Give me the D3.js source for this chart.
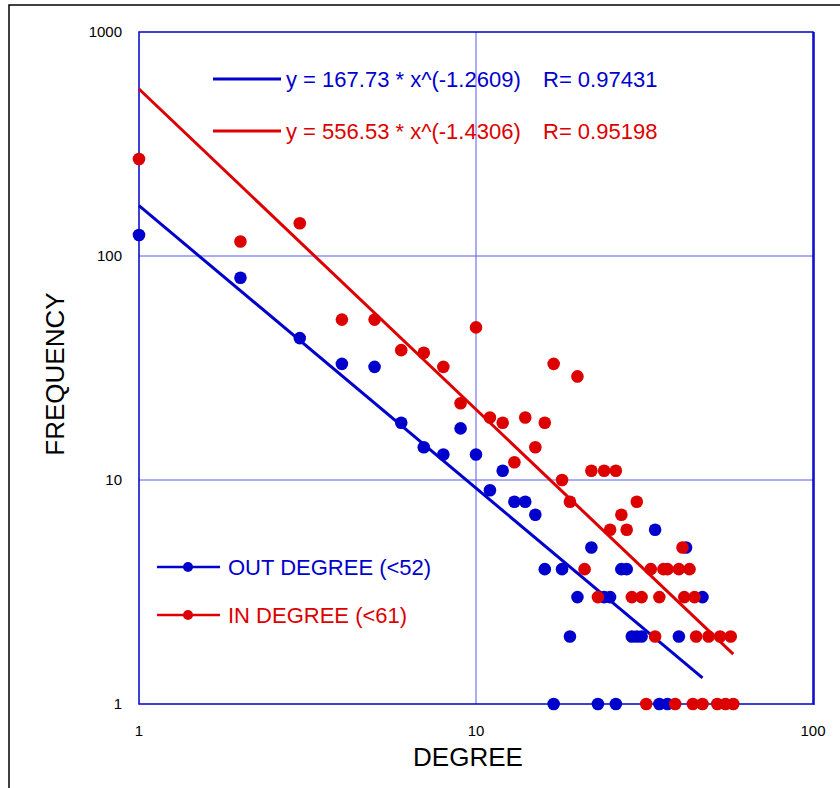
<!DOCTYPE html>
<html>
<head>
<meta charset="utf-8">
<script src="https://cdn.jsdelivr.net/npm/d3@7"></script>
<style>
  body { margin: 0; background: #fff; }
  text { font-family: "Liberation Sans", Arial, sans-serif; }
</style>
</head>
<body>
<div id="chart"></div>
<script>
// out degree (blue) : degree / frequency
const outDegree = [1, 2, 3, 4, 5, 6, 7, 8, 9, 10, 11, 12, 13, 14, 15, 16, 17, 18, 19, 20,
  22, 23, 24, 25, 26, 27, 28, 29, 30, 31, 34, 35, 37, 40, 42, 47];
const outFreq = [124, 80, 43, 33, 32, 18, 14, 13, 17, 13, 9, 11, 8, 8, 7, 4, 1, 4, 2, 3,
  5, 1, 3, 3, 1, 4, 4, 2, 2, 2, 6, 1, 1, 2, 5, 3];

// in degree (red)
const inDegree = [1, 2, 3, 4, 5, 6, 7, 8, 9, 10, 11, 12, 13, 14, 15, 16, 17, 18, 19, 20,
  21, 22, 23, 24, 25, 26, 27, 28, 29, 30, 31, 32, 33, 34, 35, 36, 37, 39, 40, 41, 41.5,
  43, 44, 44.5, 45, 47, 49, 52, 53, 55, 57, 58];
const inFreq = [271, 116, 140, 52, 52, 38, 37, 32, 22, 48, 19, 18, 12, 19, 14, 18, 33, 10, 8, 29,
  4, 11, 3, 11, 6, 11, 7, 6, 3, 8, 3, 1, 4, 2, 3, 4, 4, 1, 4, 5, 3,
  4, 1, 3, 2, 1, 2, 1, 2, 1, 2, 1];

// power-law fits shown in the chart
const outFit = { a: 167.73, b: -1.2609, r: 0.97431 };
const inFit = { a: 556.53, b: -1.4306, r: 0.95198 };

const xTicks = [1, 10, 100];
const yTicks = [1, 10, 100, 1000];

const blue = "#0000cc";
const red = "#dd0000";

const width = 840, height = 788;
const svg = d3.select("#chart").append("svg")
  .attr("width", width)
  .attr("height", height);

// outer frame (runs off the right and bottom)
svg.append("rect")
  .attr("x", 9).attr("y", 5)
  .attr("width", 900).attr("height", 900)
  .attr("fill", "none")
  .attr("stroke", "#000")
  .attr("stroke-width", 1.5);

const x = d3.scaleLog().domain([1, 100]).range([139, 813]);
const y = d3.scaleLog().domain([1, 1000]).range([704, 32]);

// grid lines
const grid = svg.append("g");
grid.selectAll(".gx")
  .data([10])
  .enter().append("line")
  .attr("x1", (d) => x(d)).attr("x2", (d) => x(d))
  .attr("y1", y(1000)).attr("y2", y(1))
  .attr("stroke", "#5a5aee").attr("stroke-width", 1);
grid.selectAll(".gy")
  .data([10, 100])
  .enter().append("line")
  .attr("x1", x(1)).attr("x2", x(100))
  .attr("y1", (d) => y(d)).attr("y2", (d) => y(d))
  .attr("stroke", "#5a5aee").attr("stroke-width", 1);

// plot border
svg.append("rect")
  .attr("x", x(1)).attr("y", y(1000))
  .attr("width", x(100) - x(1)).attr("height", y(1) - y(1000))
  .attr("fill", "none")
  .attr("stroke", blue)
  .attr("stroke-width", 1.5);
svg.append("line")
  .attr("x1", x(100) + 1).attr("x2", x(100) + 1)
  .attr("y1", y(1000)).attr("y2", y(1) + 1)
  .attr("stroke", blue).attr("stroke-width", 1.5);

// tick labels
const fmt = d3.format("d");
svg.append("g").selectAll("text")
  .data(xTicks)
  .enter().append("text")
  .attr("x", (d) => x(d))
  .attr("y", y(1) + 32)
  .attr("text-anchor", "middle")
  .attr("font-size", 15)
  .text(fmt);
svg.append("g").selectAll("text")
  .data(yTicks)
  .enter().append("text")
  .attr("x", x(1) - 17)
  .attr("y", (d) => y(d) + 5)
  .attr("text-anchor", "end")
  .attr("font-size", 15)
  .text(fmt);

// axis titles
svg.append("text")
  .attr("x", 468).attr("y", 766)
  .attr("text-anchor", "middle")
  .attr("font-size", 26)
  .text("DEGREE");
svg.append("text")
  .attr("transform", "translate(64,374) rotate(-90)")
  .attr("text-anchor", "middle")
  .attr("font-size", 26)
  .text("FREQUENCY");

// fit lines: straight in log-log, so two end points
function fitLine(fit, maxX, color) {
  const pts = [1, maxX].map((d) => [x(d), y(fit.a * Math.pow(d, fit.b))]);
  svg.append("path")
    .attr("d", d3.line()(pts))
    .attr("stroke", color)
    .attr("stroke-width", 3)
    .attr("fill", "none");
}
fitLine(outFit, d3.max(outDegree), blue);
fitLine(inFit, d3.max(inDegree), red);

// points
function dots(xs, ys, color) {
  svg.append("g").selectAll("circle")
    .data(xs.map((d, i) => ({ deg: d, freq: ys[i] })))
    .enter().append("circle")
    .attr("cx", (d) => x(d.deg))
    .attr("cy", (d) => y(d.freq))
    .attr("r", 6.3)
    .attr("fill", color);
}
dots(outDegree, outFreq, blue);
dots(inDegree, inFreq, red);

// equation legend
const eq = [
  { fit: outFit, color: blue, yy: 79 },
  { fit: inFit, color: red, yy: 131 },
];
eq.forEach((e) => {
  svg.append("line")
    .attr("x1", 213).attr("x2", 281)
    .attr("y1", e.yy).attr("y2", e.yy)
    .attr("stroke", e.color).attr("stroke-width", 3);
  svg.append("text")
    .attr("x", 286).attr("y", e.yy + 8)
    .attr("font-size", 22)
    .attr("fill", e.color)
    .text(`y = ${e.fit.a} * x^(${e.fit.b})`);
  svg.append("text")
    .attr("x", 543).attr("y", e.yy + 8)
    .attr("font-size", 22)
    .attr("fill", e.color)
    .text(`R= ${e.fit.r}`);
});

// series legend
const legend = [
  { name: "OUT DEGREE (<52)", color: blue, yy: 567 },
  { name: "IN DEGREE (<61)", color: red, yy: 615 },
];
legend.forEach((l) => {
  svg.append("line")
    .attr("x1", 157).attr("x2", 220)
    .attr("y1", l.yy).attr("y2", l.yy)
    .attr("stroke", l.color).attr("stroke-width", 2.5);
  svg.append("circle")
    .attr("cx", 188).attr("cy", l.yy).attr("r", 5)
    .attr("fill", l.color);
  svg.append("text")
    .attr("x", 228).attr("y", l.yy + 8)
    .attr("font-size", 22)
    .attr("fill", l.color)
    .text(l.name);
});
</script>
</body>
</html>
